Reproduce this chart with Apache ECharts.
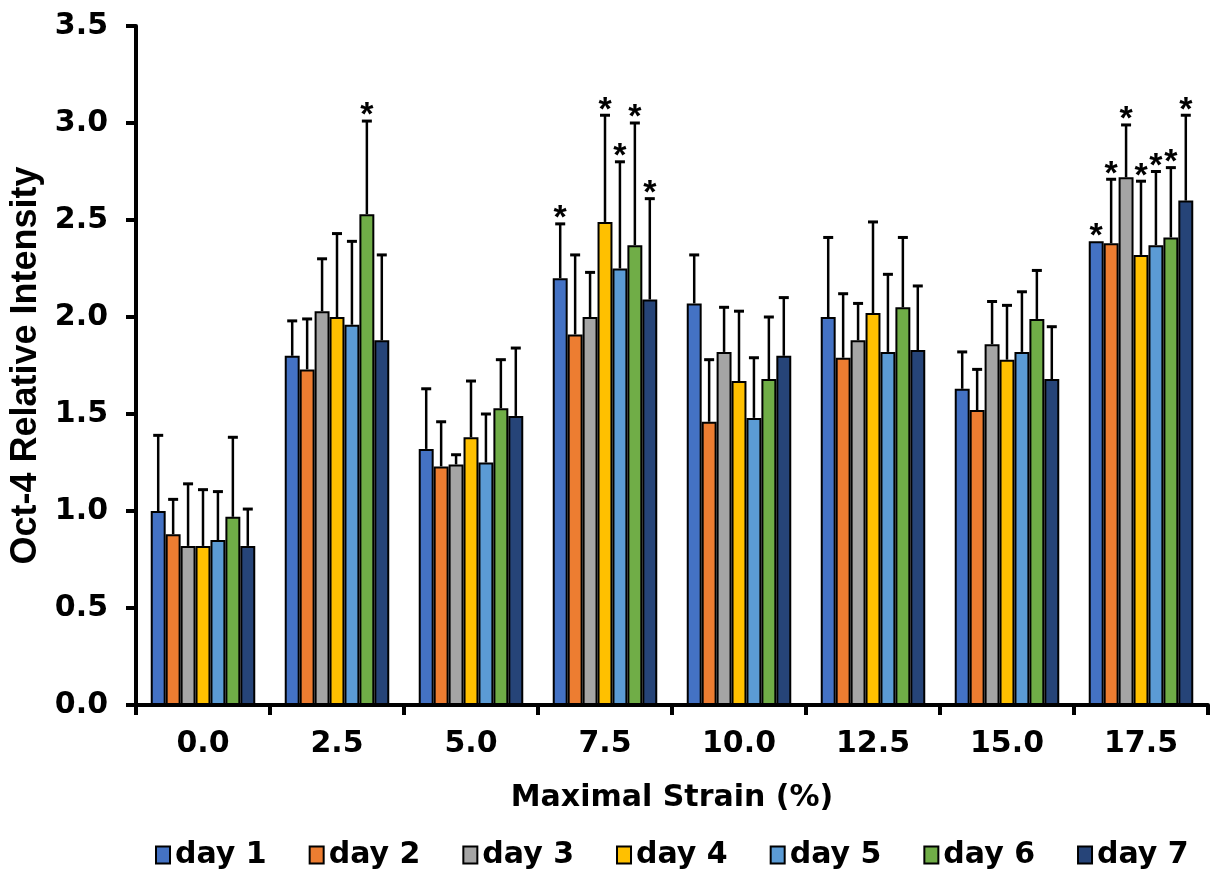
<!DOCTYPE html>
<html>
<head>
<meta charset="utf-8">
<script src="https://cdn.jsdelivr.net/npm/echarts@6/dist/echarts.min.js"></script>
<style>
  html, body { margin: 0; padding: 0; background: #fff; }
  #chart { width: 1221px; height: 889px; }
</style>
</head>
<body>
<div id="chart"></div>
<script>
// strain groups on the x axis
var categories = ['0.0', '2.5', '5.0', '7.5', '10.0', '12.5', '15.0', '17.5'];
var dayNames = ['day 1', 'day 2', 'day 3', 'day 4', 'day 5', 'day 6', 'day 7'];
var dayColors = ['#4472C4', '#ED7D31', '#A5A5A5', '#FFC000', '#5B9BD5', '#70AD47', '#264478'];

// mean relative intensity, one array per day
var day1 = [1.00, 1.80, 1.32, 2.20, 2.07, 2.00, 1.63, 2.39];
var day2 = [0.88, 1.73, 1.23, 1.91, 1.46, 1.79, 1.52, 2.38];
var day3 = [0.82, 2.03, 1.24, 2.00, 1.82, 1.88, 1.86, 2.72];
var day4 = [0.82, 2.00, 1.38, 2.49, 1.67, 2.02, 1.78, 2.32];
var day5 = [0.85, 1.96, 1.25, 2.25, 1.48, 1.82, 1.82, 2.37];
var day6 = [0.97, 2.53, 1.53, 2.37, 1.68, 2.05, 1.99, 2.41];
var day7 = [0.82, 1.88, 1.49, 2.09, 1.80, 1.83, 1.68, 2.60];

// upper error (SD)
var sd1 = [0.39, 0.18, 0.31, 0.28, 0.25, 0.41, 0.19, 0.00];
var sd2 = [0.18, 0.26, 0.23, 0.41, 0.32, 0.33, 0.21, 0.33];
var sd3 = [0.32, 0.27, 0.05, 0.23, 0.23, 0.19, 0.22, 0.27];
var sd4 = [0.29, 0.43, 0.29, 0.55, 0.36, 0.47, 0.28, 0.38];
var sd5 = [0.25, 0.43, 0.25, 0.55, 0.31, 0.40, 0.31, 0.38];
var sd6 = [0.41, 0.48, 0.25, 0.63, 0.32, 0.36, 0.25, 0.36];
var sd7 = [0.19, 0.44, 0.35, 0.52, 0.30, 0.33, 0.27, 0.44];

// significance marks (1 = asterisk)
var star1 = [0, 0, 0, 1, 0, 0, 0, 1];
var star2 = [0, 0, 0, 0, 0, 0, 0, 1];
var star3 = [0, 0, 0, 0, 0, 0, 0, 1];
var star4 = [0, 0, 0, 1, 0, 0, 0, 1];
var star5 = [0, 0, 0, 1, 0, 0, 0, 1];
var star6 = [0, 1, 0, 1, 0, 0, 0, 1];
var star7 = [0, 0, 0, 1, 0, 0, 0, 1];

var means = [day1, day2, day3, day4, day5, day6, day7];
var sds = [sd1, sd2, sd3, sd4, sd5, sd6, sd7];
var stars = [star1, star2, star3, star4, star5, star6, star7];

var CAT_GAP = 0.22;
var hFont = 'DejaVu Sans';

function makeErrRender(day) {
    return function (params, api) {
        var cat = api.value(0), val = api.value(1), sd = api.value(2), star = api.value(3);
        var band = api.size([1, 0])[0];
        var groupW = band * (1 - CAT_GAP);
        var barW = groupW / dayNames.length;
        var base = api.coord([cat, val]);
        var cx = base[0] - groupW / 2 + barW * (day + 0.5);
        var yTop = api.coord([cat, val + sd])[1];
        var children = [];
        if (sd > 0) {
            children.push({
                type: 'line',
                shape: { x1: cx, y1: base[1], x2: cx, y2: yTop },
                style: { stroke: '#000', lineWidth: 2.5 }
            });
            children.push({
                type: 'line',
                shape: { x1: cx - 5, y1: yTop, x2: cx + 5, y2: yTop },
                style: { stroke: '#000', lineWidth: 3 }
            });
        }
        if (star) {
            children.push({
                type: 'text',
                style: {
                    text: '*', x: cx, y: yTop + 12,
                    fill: '#000', font: 'bold 34px "Liberation Sans"',
                    align: 'center', verticalAlign: 'bottom'
                }
            });
        }
        return { type: 'group', children: children };
    };
}

var series = [];
dayNames.forEach(function (name, d) {
    series.push({
        name: name,
        type: 'bar',
        data: means[d],
        barGap: 0,
        barCategoryGap: (CAT_GAP * 100) + '%',
        itemStyle: { color: dayColors[d], borderColor: '#000', borderWidth: 2 },
        emphasis: { disabled: true }
    });
});
dayNames.forEach(function (name, d) {
    series.push({
        name: name,
        type: 'custom',
        renderItem: makeErrRender(d),
        encode: { x: 0, y: 1 },
        z: 5,
        silent: true,
        data: means[d].map(function (v, i) { return [i, v, sds[d][i], stars[d][i]]; })
    });
});

var myChart = echarts.init(document.getElementById('chart'));
var option = {
    animation: false,
    backgroundColor: '#fff',
    grid: { left: 136, right: 13, top: 26, bottom: 184, containLabel: false, outerBoundsMode: 'none' },
    legend: {
        data: dayNames,
        bottom: 14,
        left: 150,
        icon: 'rect',
        itemWidth: 14,
        itemHeight: 17,
        itemGap: 42,
        textStyle: { fontFamily: hFont, fontWeight: 'bold', fontSize: 30, color: '#000' }
    },
    xAxis: {
        type: 'category',
        data: categories,
        name: 'Maximal Strain (%)',
        nameLocation: 'middle',
        nameGap: 78,
        nameTextStyle: { fontFamily: hFont, fontWeight: 'bold', fontSize: 30, color: '#000' },
        axisLine: { lineStyle: { color: '#000', width: 4 } },
        axisTick: { show: true, alignWithLabel: false, length: 10, lineStyle: { color: '#000', width: 4 } },
        axisLabel: { margin: 24, fontFamily: hFont, fontWeight: 'bold', fontSize: 30, color: '#000' },
        splitLine: { show: false }
    },
    yAxis: {
        type: 'value',
        min: 0,
        max: 3.5,
        interval: 0.5,
        name: 'Oct-4 Relative Intensity',
        nameLocation: 'middle',
        nameGap: 90,
        nameTextStyle: { fontFamily: 'Liberation Sans', fontWeight: 'bold', fontSize: 36, color: '#000' },
        axisLine: { show: true, lineStyle: { color: '#000', width: 4 } },
        axisTick: { show: true, length: 10, lineStyle: { color: '#000', width: 4 } },
        axisLabel: {
            margin: 28, fontFamily: hFont, fontWeight: 'bold', fontSize: 30, color: '#000',
            formatter: function (v) { return v.toFixed(1); }
        },
        splitLine: { show: false }
    },
    series: series
};
myChart.setOption(option);
</script>
</body>
</html>
